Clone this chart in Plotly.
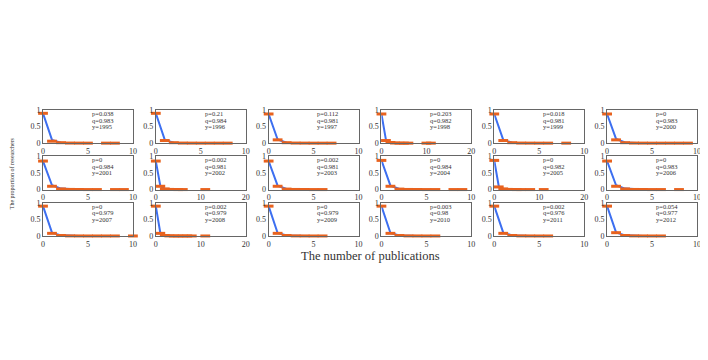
import plotly.graph_objects as go
from plotly.subplots import make_subplots

years = [1995, 1996, 1997, 1998, 1999, 2000,
         2001, 2002, 2003, 2004, 2005, 2006,
         2007, 2008, 2009, 2010, 2011, 2012]
p_vals = ['0.038', '0.21', '0.112', '0.203', '0.018', '0',
          '0', '0.002', '0.002', '0', '0', '0',
          '0', '0.002', '0', '0.003', '0.002', '0.054']
q_vals = ['0.983', '0.984', '0.981', '0.982', '0.981', '0.983',
          '0.984', '0.981', '0.981', '0.984', '0.982', '0.983',
          '0.979', '0.979', '0.979', '0.98', '0.976', '0.977']
x_max = [10, 10, 10, 20, 10, 10,
         10, 20, 10, 10, 20, 10,
         10, 20, 10, 10, 10, 10]

# observed proportions (orange markers)
obs_x = [
    [0, 1, 2, 3, 4, 5, 7, 8],
    [0, 1, 2, 3, 4, 5, 6, 7, 8],
    [0, 1, 2, 3, 4, 5, 6, 7],
    [0, 1, 2, 3, 4, 5, 6, 10, 11],
    [0, 1, 2, 3, 4, 5, 6, 8],
    [0, 1, 2, 3, 4, 5, 6, 7, 8, 9],
    [0, 1, 2, 3, 4, 5, 6, 8, 9],
    [0, 1, 2, 3, 4, 5, 6, 11],
    [0, 1, 2, 3, 4, 5, 6],
    [0, 1, 2, 3, 4, 5, 6, 8, 9],
    [0, 1, 2, 3, 4, 5, 6, 8, 11],
    [0, 1, 2, 3, 4, 5, 6, 8],
    [0, 1, 2, 3, 4, 5, 6, 7, 8, 10],
    [0, 1, 2, 3, 4, 5, 6, 7, 8, 11],
    [0, 1, 2, 3, 4, 5, 6],
    [0, 1, 2, 3, 4, 5, 6],
    [0, 1, 2, 3, 4, 5, 6],
    [0, 1, 2, 3, 4, 5, 6],
]
obs_y = [
    [0.90, 0.06, 0.015, 0.004, 0.002, 0.001, 0.001, 0.001],
    [0.90, 0.08, 0.015, 0.004, 0.002, 0.001, 0.001, 0.001, 0.001],
    [0.88, 0.10, 0.015, 0.004, 0.002, 0.001, 0.001, 0.001],
    [0.88, 0.08, 0.02, 0.005, 0.002, 0.001, 0.001, 0.001, 0.001],
    [0.88, 0.08, 0.015, 0.004, 0.002, 0.001, 0.001, 0.001],
    [0.88, 0.10, 0.015, 0.004, 0.002, 0.001, 0.001, 0.001, 0.001, 0.001],
    [0.86, 0.10, 0.02, 0.005, 0.002, 0.001, 0.001, 0.001, 0.001],
    [0.86, 0.10, 0.02, 0.005, 0.002, 0.001, 0.001, 0.001],
    [0.86, 0.10, 0.015, 0.004, 0.002, 0.001, 0.001],
    [0.88, 0.10, 0.015, 0.004, 0.002, 0.001, 0.001, 0.001, 0.001],
    [0.88, 0.08, 0.02, 0.005, 0.002, 0.001, 0.001, 0.001, 0.001],
    [0.86, 0.10, 0.02, 0.004, 0.002, 0.001, 0.001, 0.001],
    [0.90, 0.08, 0.015, 0.004, 0.002, 0.001, 0.001, 0.001, 0.001, 0.001],
    [0.90, 0.08, 0.015, 0.004, 0.002, 0.001, 0.001, 0.001, 0.001, 0.001],
    [0.90, 0.08, 0.015, 0.004, 0.002, 0.001, 0.001],
    [0.90, 0.08, 0.015, 0.004, 0.002, 0.001, 0.001],
    [0.90, 0.08, 0.015, 0.004, 0.002, 0.001, 0.001],
    [0.90, 0.10, 0.015, 0.004, 0.002, 0.001, 0.001],
]
# fitted curve (blue line)
fit_x = [0, 1, 2, 3, 4]
fit_y = [
    [0.90, 0.10, 0.015, 0.002, 0.0],
    [0.90, 0.10, 0.015, 0.002, 0.0],
    [0.88, 0.11, 0.015, 0.002, 0.0],
    [0.88, 0.10, 0.02, 0.003, 0.0],
    [0.88, 0.10, 0.015, 0.002, 0.0],
    [0.88, 0.13, 0.02, 0.003, 0.0],
    [0.86, 0.13, 0.03, 0.004, 0.0],
    [0.86, 0.11, 0.02, 0.003, 0.0],
    [0.86, 0.12, 0.02, 0.003, 0.0],
    [0.88, 0.12, 0.02, 0.003, 0.0],
    [0.88, 0.10, 0.02, 0.003, 0.0],
    [0.86, 0.13, 0.03, 0.004, 0.0],
    [0.90, 0.10, 0.02, 0.003, 0.0],
    [0.90, 0.09, 0.015, 0.002, 0.0],
    [0.90, 0.09, 0.015, 0.002, 0.0],
    [0.90, 0.09, 0.015, 0.002, 0.0],
    [0.90, 0.10, 0.015, 0.002, 0.0],
    [0.90, 0.11, 0.02, 0.003, 0.0],
]

serif = 'Liberation Serif'
blue = '#3d6ff0'
orange = '#e8621e'

fig = make_subplots(rows=3, cols=6, horizontal_spacing=0.035, vertical_spacing=0.105)

for i, yr in enumerate(years):
    r, c = i // 6 + 1, i % 6 + 1
    fig.add_trace(go.Scatter(
        x=fit_x, y=fit_y[i], mode='lines',
        line=dict(color=blue, width=2), cliponaxis=False, showlegend=False
    ), row=r, col=c)
    fig.add_trace(go.Scatter(
        x=obs_x[i], y=obs_y[i], mode='markers',
        marker=dict(symbol='line-ew', size=7, line=dict(color=orange, width=3)),
        cliponaxis=False, showlegend=False
    ), row=r, col=c)
    xm = x_max[i]
    fig.update_xaxes(range=[0, xm], tickvals=[0, xm / 2, xm],
                     ticktext=['0', str(xm // 2), str(xm)], row=r, col=c)
    fig.update_yaxes(range=[0, 1], tickvals=[0, 0.5, 1],
                     ticktext=['0', '0.5', '1'], row=r, col=c)
    n = '' if i == 0 else str(i + 1)
    for k, line in enumerate([f'p={p_vals[i]}', f'q={q_vals[i]}', f'y={yr}']):
        fig.add_annotation(
            x=0.52, y=1, xref=f'x{n} domain', yref=f'y{n} domain',
            xanchor='left', yanchor='top', yshift=2 - 6.5 * k,
            text=line, showarrow=False,
            font=dict(family=serif, size=6.5, color='#333333')
        )

fig.update_xaxes(showline=True, linecolor='#666666', linewidth=1, mirror=True,
                 showgrid=False, zeroline=False, ticks='', ticklen=0,
                 tickfont=dict(family=serif, size=8, color='#333333'))
fig.update_yaxes(showline=True, linecolor='#666666', linewidth=1, mirror=True,
                 showgrid=False, zeroline=False, ticks='', ticklen=0,
                 tickfont=dict(family=serif, size=8, color='#333333'))

fig.add_annotation(
    x=0.5, y=0, xref='paper', yref='paper', xanchor='center', yanchor='top',
    yshift=-11, text='The number of publications', showarrow=False,
    font=dict(family=serif, size=12.5, color='#333333')
)
fig.add_annotation(
    x=-0.047, y=0.5, xref='paper', yref='paper', xanchor='center', yanchor='middle',
    textangle=-90, text='The proportion of researchers', showarrow=False,
    font=dict(family=serif, size=6, color='#333333')
)

# the page adds a small offset, so left/right margins are shifted to compensate
fig.update_layout(
    width=708, height=360,
    margin=dict(l=35, r=19, t=102, b=132),
    plot_bgcolor='white', paper_bgcolor='white',
    font=dict(family=serif)
)

fig.write_html("out.html")
